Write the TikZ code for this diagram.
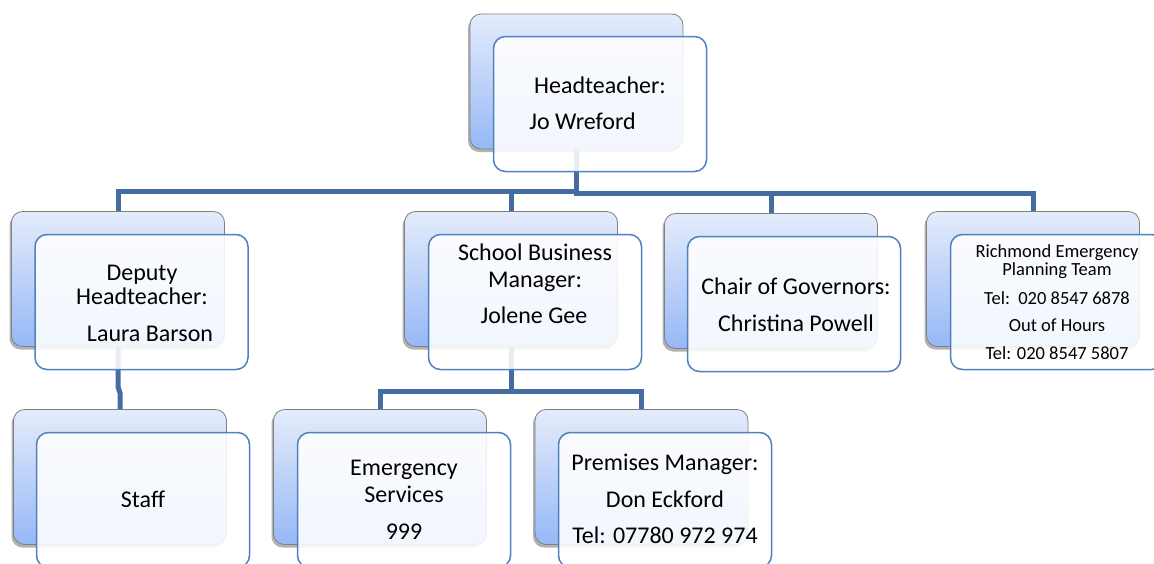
\documentclass[tikz,border=0pt]{standalone}
\usepackage{fontspec}
\setmainfont{Carlito}
\usetikzlibrary{shadows,calc}
\definecolor{connc}{RGB}{68,108,160}
\definecolor{frontc}{RGB}{79,129,189}
\definecolor{backtop}{RGB}{228,236,251}
\definecolor{backbot}{RGB}{150,184,246}
\definecolor{backdraw}{RGB}{128,128,128}
\tikzset{
  backbox/.style={draw=backdraw, line width=0.8pt, rounded corners=11pt,
    top color=backtop, bottom color=backbot, minimum width=213pt, minimum height=135pt,
    drop shadow={shadow xshift=-2pt, shadow yshift=-3pt, opacity=0.3, fill=black}},
  frontbox/.style={draw=frontc, line width=1.5pt, rounded corners=12pt,
    fill=white, fill opacity=0.88, minimum width=213pt, minimum height=135pt},
  conn/.style={draw=connc, line width=5pt},
  txt/.style={anchor=base, inner sep=0pt, font=\fontsize{24}{28}\selectfont, text=black},
  stxt/.style={anchor=base, inner sep=0pt, font=\fontsize{18.5}{22}\selectfont, text=black}
}
\begin{document}
\begin{tikzpicture}[x=1pt,y=-1pt]
\useasboundingbox (0,0) rectangle (1154,563);
% back boxes
\node[backbox] (hb) at (576.5,81.5) {};
\node[backbox] (db) at (118,279) {};
\node[backbox] (sb) at (511,279) {};
\node[backbox] (cb) at (771,281) {};
\node[backbox] (rb) at (1033,279) {};
\node[backbox] (tb) at (120,477) {};
\node[backbox] (eb) at (380,477) {};
\node[backbox] (pb) at (641.5,477) {};
% connectors
\draw[conn] (hb.south) -- ++(0,42) -| (db.north);
\draw[conn] (hb.south) -- ++(0,42) -| (sb.north);
\draw[conn] (hb.south) -- ++(0,44) -| (cb.north);
\draw[conn] (hb.south) -- ++(0,44) -| (rb.north);
\draw[conn] (db.south) -- ++(0,40) -- ++(2,6) |- (tb.north);
\draw[conn] (sb.south) -- ++(0,45) -| (eb.north);
\draw[conn] (sb.south) -- ++(0,45) -| (pb.north);
% front boxes
\node[frontbox] (hf) at (600,104) {};
\node[frontbox] (df) at (141.5,302) {};
\node[frontbox] (sf) at (535,302) {};
\node[frontbox] (cf) at (794,304) {};
\node[frontbox] (rf) at (1057,302) {};
\node[frontbox] (tf) at (143,500) {};
\node[frontbox] (ef) at (404,500) {};
\node[frontbox] (pf) at (665,500) {};
% texts
\node[txt] (h1) at (600,93) {Headteacher:};
\node[txt] (h2) at (582.5,129) {Jo Wreford};
\node[txt] (d1) at (142,280) {Deputy};
\node[txt] (d2) at (142,304) {Headteacher:};
\node[txt] (d3) at (150,341) {Laura Barson};
\node[txt] (s1) at (535,260) {School Business};
\node[txt] (s2) at (535,287) {Manager:};
\node[txt] (s3) at (534,323) {Jolene Gee};
\node[txt] (c1) at (796,294) {Chair of Governors:};
\node[txt] (c2) at (796,331) {Christina Powell};
\node[stxt] (r1) at (1057,257) {Richmond Emergency};
\node[stxt] (r2) at (1057,275) {Planning Team};
\node[stxt] (r3) at (1057,304) {Tel:\ \ 020 8547 6878};
\node[stxt] (r4) at (1057,331) {Out of Hours};
\node[stxt] (r5) at (1057,359) {Tel: 020 8547 5807};
\node[txt] (t1) at (143,507) {Staff};
\node[txt] (e1) at (404,475) {Emergency};
\node[txt] (e2) at (404,502) {Services};
\node[txt] (e3) at (404,539) {999};
\node[txt] (p1) at (665,470) {Premises Manager:};
\node[txt] (p2) at (665,507) {Don Eckford};
\node[txt] (p3) at (665,543) {Tel: 07780 972 974};
\end{tikzpicture}
\end{document}
